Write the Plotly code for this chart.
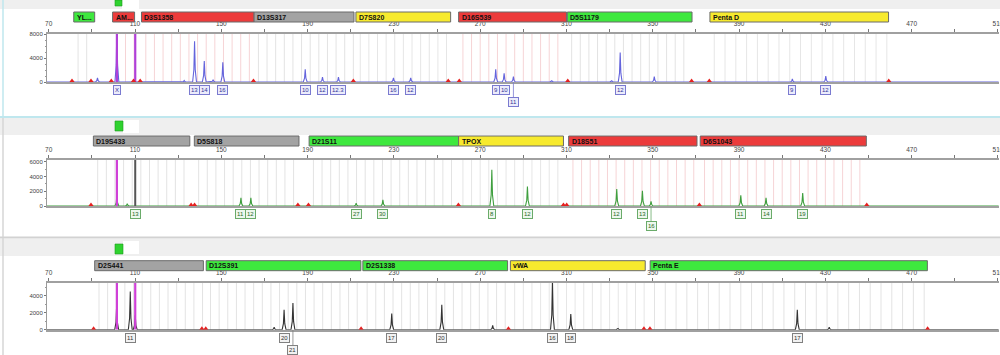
import numpy as np
import plotly.graph_objects as go

# ---------------- data ----------------
tick_bp = [70, 110, 150, 190, 230, 270, 310, 350, 390, 430, 470, 510]

# Panel 1 (blue dye)
p1_peak_bp = [92.6, 101.6, 132.8, 137.6, 142.1, 146.2, 150.7, 188.9, 196.9, 204.3, 229.8, 237.8,
              277.2, 281.1, 285.4, 303.2, 331.0, 334.9, 350.7, 414.7, 430.2]
p1_peak_rfu = [700, 9500, 250, 6800, 3500, 400, 3300, 2100, 800, 800, 700, 700,
               2100, 1450, 900, 200, 200, 4900, 900, 500, 1000]
p1_allele_bp = [101.6, 137.6, 142.1, 150.7, 188.9, 196.9, 204.3, 229.8, 237.8, 277.2, 281.1, 285.4, 334.9, 414.7, 430.2]
p1_allele_txt = ["X", "13", "14", "16", "10", "12", "12.3", "16", "12", "9", "10", "11", "12", "9", "12"]
p1_allele_row = [1, 1, 1, 1, 1, 1, 1, 1, 1, 1, 1, 2, 1, 1, 1]
p1_offscale_bp = [101.6, 110.1]
p1_dark_bp = []
p1_ils_bp = [80.8, 89.6, 99.0, 109.3, 112.4, 164.9, 211.2, 255.2, 260.3, 310.6, 368.0, 376.2, 459.4]
p1_locus_name = ["YL...", "AM...", "D3S1358", "D13S317", "D7S820", "D16S539", "D5S1179", "Penta D"]
p1_locus_start = [81.6, 99.6, 113.0, 165.2, 212.4, 260.0, 310.4, 376.5]
p1_locus_end = [91.3, 109.8, 165.2, 211.5, 256.3, 310.0, 368.2, 459.3]
p1_locus_col = ["green", "red", "red", "gray", "yellow", "red", "green", "yellow"]
p1_rfu_max = 8000
p1_rfu_ticks = [0, 4000, 8000]

# Panel 2 (green dye)
p2_peak_bp = [101.6, 106.4, 159.1, 163.7, 212.5, 224.9, 275.4, 291.9, 333.3, 345.2, 349.2, 390.8, 402.5, 419.5]
p2_peak_rfu = [1500, 300, 1100, 1100, 400, 850, 4900, 2650, 2300, 2070, 640, 1450, 1100, 1760]
p2_allele_bp = [110.1, 159.1, 163.7, 212.5, 224.9, 275.4, 291.9, 333.3, 345.2, 349.2, 390.8, 402.5, 419.5]
p2_allele_txt = ["13", "11", "12", "27", "30", "8", "12", "12", "13", "16", "11", "14", "19"]
p2_allele_row = [1, 1, 1, 1, 1, 1, 1, 1, 1, 2, 1, 1, 1]
p2_offscale_bp = [101.6]
p2_dark_bp = [110.1]
p2_ils_bp = [89.6, 136.0, 137.6, 185.5, 190.4, 259.9, 308.6, 310.1, 371.6, 449.2]
p2_locus_name = ["D19S433", "D5S818", "D21S11", "TPOX", "D18S51", "D6S1043"]
p2_locus_start = [90.7, 137.5, 190.7, 260.0, 311.0, 372.0]
p2_locus_end = [135.4, 186.0, 260.0, 308.6, 370.5, 449.0]
p2_locus_col = ["gray", "gray", "green", "yellow", "red", "red"]
p2_rfu_max = 6300
p2_rfu_ticks = [0, 2000, 4000, 6000]

# Panel 3 (black dye)
p3_peak_bp = [101.5, 107.8, 110.1, 174.5, 179.1, 183.2, 229.0, 252.2, 275.8, 303.5, 312.0, 333.9, 417.0, 431.8]
p3_peak_rfu = [2950, 4500, 1700, 300, 2350, 3150, 1900, 2950, 500, 5800, 1850, 150, 2350, 300]
p3_allele_bp = [107.8, 179.1, 183.2, 229.0, 252.2, 303.5, 312.0, 417.0]
p3_allele_txt = ["11", "20", "21", "17", "20", "16", "18", "17"]
p3_allele_row = [1, 1, 2, 1, 1, 1, 1, 1]
p3_offscale_bp = [101.6, 110.1]
p3_dark_bp = []
p3_ils_bp = [90.8, 141.0, 142.8, 214.8, 283.1, 345.9, 348.7, 477.4]
p3_locus_name = ["D2S441", "D12S391", "D2S1338", "vWA", "Penta E"]
p3_locus_start = [91.3, 143.0, 215.6, 284.0, 348.8]
p3_locus_end = [141.7, 214.7, 282.7, 346.5, 477.3]
p3_locus_col = ["gray", "green", "green", "yellow", "green"]
p3_rfu_max = 5500
p3_rfu_ticks = [0, 2000, 4000]

# ---------------- styling ----------------
W, H = 1000, 355
X_RANGE = [69.2, 510.4]
X_DOM = [0.047, 0.9988]
FONT = "Liberation Sans"
BAR_FILL = {"red": "#ec3b3b", "gray": "#a3a3a3", "yellow": "#f7ea2e", "green": "#3ee83e"}
BIN_COL = {"red": "#f6d4d6", "gray": "#e3e3e3", "yellow": "#e6e6e6", "green": "#e3e3e3"}


def py(p):
    return 1 - p / H


panels = [
    dict(peak_bp=p1_peak_bp, peak_rfu=p1_peak_rfu, a_bp=p1_allele_bp, a_txt=p1_allele_txt, a_row=p1_allele_row,
         off=p1_offscale_bp, dark=p1_dark_bp, ils=p1_ils_bp, ln=p1_locus_name, ls=p1_locus_start, le=p1_locus_end,
         lc=p1_locus_col, ymax=p1_rfu_max, yt=p1_rfu_ticks,
         top=34, base=82, bar=(12, 22), dye="#6464dc", box=("#7a7ad0", "#ececfb", "#34349a"), offcol="#b040d8"),
    dict(peak_bp=p2_peak_bp, peak_rfu=p2_peak_rfu, a_bp=p2_allele_bp, a_txt=p2_allele_txt, a_row=p2_allele_row,
         off=p2_offscale_bp, dark=p2_dark_bp, ils=p2_ils_bp, ln=p2_locus_name, ls=p2_locus_start, le=p2_locus_end,
         lc=p2_locus_col, ymax=p2_rfu_max, yt=p2_rfu_ticks,
         top=159.5, base=206, bar=(136, 146), dye="#3f9f3f", box=("#6aab6a", "#edf7ed", "#2a6a2a"), offcol="#d040d8"),
    dict(peak_bp=p3_peak_bp, peak_rfu=p3_peak_rfu, a_bp=p3_allele_bp, a_txt=p3_allele_txt, a_row=p3_allele_row,
         off=p3_offscale_bp, dark=p3_dark_bp, ils=p3_ils_bp, ln=p3_locus_name, ls=p3_locus_start, le=p3_locus_end,
         lc=p3_locus_col, ymax=p3_rfu_max, yt=p3_rfu_ticks,
         top=283, base=329.7, bar=(260.7, 270.7), dye="#333333", box=("#808080", "#f2f2f2", "#333333"), offcol="#d040d8"),
]

fig = go.Figure()
shapes = []
annotations = []

# panel chrome (headers, separators)
chrome = [
    (0, 0, 1000, 9, "#efefef"),
    (122, 0, 139, 9, "#ffffff"),
    (0, 118, 1000, 135, "#efefef"),
    (123, 120, 139, 133, "#ffffff"),
    (0, 239, 1000, 256, "#efefef"),
    (123, 241, 139, 254, "#ffffff"),
]
for x0, y0, x1, y1, fc in chrome:
    shapes.append(dict(type="rect", xref="paper", yref="paper", x0=x0 / W, x1=x1 / W, y0=py(y1), y1=py(y0),
                       fillcolor=fc, line=dict(width=0), layer="below"))
for (x0, y0, x1, y1) in [(115, 0, 122, 6), (115, 121, 123, 131), (115, 244, 123, 254)]:
    shapes.append(dict(type="rect", xref="paper", yref="paper", x0=x0 / W, x1=x1 / W, y0=py(y1), y1=py(y0),
                       fillcolor="#2fd22f", line=dict(width=0.6, color="#1c9c1c")))
for (y, c) in [(117, "#bfe7ee"), (237.5, "#d2d2d2")]:
    shapes.append(dict(type="line", xref="paper", yref="paper", x0=0, x1=1, y0=py(y), y1=py(y),
                       line=dict(color=c, width=2)))
for (y0, y1, c) in [(0, 116, "#bfe7ee"), (118, 237, "#d6d6d6"), (238, 355, "#d6d6d6")]:
    shapes.append(dict(type="line", xref="paper", yref="paper", x0=3 / W, x1=3 / W, y0=py(y1), y1=py(y0),
                       line=dict(color=c, width=1.5)))

for i, P in enumerate(panels, start=1):
    xa = "x" if i == 1 else f"x{i}"
    ya = "y" if i == 1 else f"y{i}"
    ymax = P["ymax"]

    # bins inside loci
    for s, e, c, n in zip(P["ls"], P["le"], P["lc"], P["ln"]):
        step = 5 if n.startswith("Penta") else 4
        bx, by = [], []
        for b in np.arange(s + 2, e, step):
            bx += [b, b, None]
            by += [0, ymax, None]
        fig.add_trace(go.Scatter(x=bx, y=by, mode="lines", line=dict(color=BIN_COL[c], width=1),
                                 hoverinfo="skip", xaxis=xa, yaxis=ya))

    # peaks
    order = np.argsort(P["peak_bp"])
    w = 0.9
    px_, py_ = [X_RANGE[0]], [0]
    for k in order:
        b, h = P["peak_bp"][k], P["peak_rfu"][k]
        px_ += [b - w, b - w * 0.35, b, b + w * 0.35, b + w]
        py_ += [0, h * 0.3, h, h * 0.3, 0]
    px_.append(X_RANGE[1])
    py_.append(0)
    fig.add_trace(go.Scatter(x=px_, y=py_, mode="lines", line=dict(color=P["dye"], width=1.1),
                             hoverinfo="skip", xaxis=xa, yaxis=ya))

    # off-scale markers
    ox, oy = [], []
    for b in P["off"]:
        ox += [b, b, None]
        oy += [0, ymax, None]
    if ox:
        fig.add_trace(go.Scatter(x=ox, y=oy, mode="lines", line=dict(color=P["offcol"], width=2.2),
                                 hoverinfo="skip", xaxis=xa, yaxis=ya))
    dx, dy = [], []
    for b in P["dark"]:
        dx += [b, b, None]
        dy += [0, ymax, None]
    if dx:
        fig.add_trace(go.Scatter(x=dx, y=dy, mode="lines", line=dict(color="#555555", width=2),
                                 hoverinfo="skip", xaxis=xa, yaxis=ya))

    # size-standard markers
    fig.add_trace(go.Scatter(x=P["ils"], y=[ymax * 0.025] * len(P["ils"]), mode="markers",
                             marker=dict(symbol="triangle-up", size=4.5, color="#e52020"),
                             hoverinfo="skip", xaxis=xa, yaxis=ya))

    # locus bars
    b0, b1 = P["bar"]
    for n, s, e, c in zip(P["ln"], P["ls"], P["le"], P["lc"]):
        shapes.append(dict(type="rect", xref=xa, yref="paper", x0=s, x1=e, y0=py(b1), y1=py(b0),
                           fillcolor=BAR_FILL[c], line=dict(color="#6a6a6a", width=1)))
        annotations.append(dict(xref=xa, yref="paper", x=s, y=py((b0 + b1) / 2), text=f"<b>{n}</b>",
                                showarrow=False, xanchor="left", yanchor="middle", xshift=1,
                                font=dict(family=FONT, size=7, color="#111111")))

    # allele labels
    bc, bg, tc = P["box"]
    for b, t, r in zip(P["a_bp"], P["a_txt"], P["a_row"]):
        if r == 1:
            annotations.append(dict(xref=xa, yref="paper", x=b, y=py(P["base"] + 8), text=t, showarrow=False,
                                    xanchor="center", yanchor="middle", bordercolor=bc, borderwidth=1,
                                    borderpad=1, bgcolor=bg, font=dict(family=FONT, size=6, color=tc)))
        else:
            annotations.append(dict(xref=xa, yref="paper", x=b, y=py(P["base"]), text=t, showarrow=True,
                                    arrowhead=0, arrowwidth=0.8, arrowcolor=bc, ax=0, ay=20,
                                    xanchor="center", yanchor="middle", bordercolor=bc, borderwidth=1,
                                    borderpad=1, bgcolor=bg, font=dict(family=FONT, size=6, color=tc)))

    ydom = [py(P["base"]), py(P["top"])]
    fig.update_layout(**{
        ("xaxis" if i == 1 else f"xaxis{i}"): dict(
            domain=X_DOM, range=X_RANGE, anchor=ya, side="top", showgrid=False, zeroline=False,
            showline=True, linecolor="#a0a0a0", linewidth=2, mirror=True, automargin=False,
            tickmode="array", tickvals=tick_bp, ticks="outside", ticklen=3, tickcolor="#777777",
            ticklabeloverflow="allow",
            minor=dict(tickmode="array", tickvals=[v + 20 for v in tick_bp[:-1]], ticks="outside",
                       ticklen=3, tickcolor="#777777"),
            tickfont=dict(family=FONT, size=6.5, color="#444444"), fixedrange=True),
        ("yaxis" if i == 1 else f"yaxis{i}"): dict(
            domain=ydom, range=[0, ymax], anchor=xa, showgrid=False, zeroline=False, automargin=False,
            showline=True, linecolor="#9a9a9a", linewidth=1, tickmode="array", tickvals=P["yt"],
            ticks="outside", ticklen=2, tickcolor="#777777",
            minor=dict(ticks="outside", ticklen=1.5, dtick=1000, tickcolor="#999999"),
            tickfont=dict(family=FONT, size=6, color="#444444"), fixedrange=True),
    })

fig.update_layout(width=W, height=H, margin=dict(l=0, r=0, t=0, b=0), plot_bgcolor="white",
                  paper_bgcolor="white", showlegend=False, shapes=shapes, annotations=annotations)
fig.write_html("out.html")
